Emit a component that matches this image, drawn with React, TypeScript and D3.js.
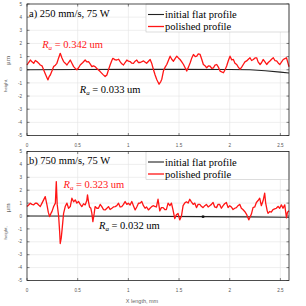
import React from 'react';
import * as d3 from 'd3';

// axis setup
const xTicks = [0, 0.5, 1, 1.5, 2, 2.5];
const yTicks = [-5, -4, -3, -2, -1, 0, 1, 2, 3, 4, 5];
const xMax = 2.585;

// a) 250 mm/s
const flatAX = [0, 0.5, 1, 1.5, 2, 2.2, 2.35, 2.5, 2.585];
const flatAY = [0, 0.02, 0.03, 0.03, 0.02, 0, -0.08, -0.18, -0.25];
const polAX = [
  0, 0.016, 0.033, 0.049, 0.066, 0.082, 0.098, 0.115, 0.131, 0.148, 0.164, 0.18, 0.197, 0.207, 0.22, 0.23,
  0.246, 0.263, 0.28, 0.295, 0.312, 0.328, 0.345, 0.361, 0.377, 0.394, 0.41, 0.427, 0.443, 0.46, 0.476, 0.492,
  0.509, 0.525, 0.551, 0.574, 0.59, 0.607, 0.623, 0.64, 0.656, 0.672, 0.689, 0.722, 0.748, 0.771, 0.788, 0.804,
  0.82, 0.837, 0.847, 0.87, 0.886, 0.903, 0.919, 0.935, 0.952, 0.968, 0.985, 1.0, 1.017, 1.034, 1.05, 1.067,
  1.083, 1.1, 1.117, 1.15, 1.18, 1.215, 1.23, 1.248, 1.264, 1.28, 1.303, 1.32, 1.33, 1.346, 1.363, 1.379,
  1.395, 1.412, 1.428, 1.445, 1.461, 1.478, 1.494, 1.51, 1.527, 1.544, 1.56, 1.576, 1.593, 1.61, 1.626, 1.642,
  1.66, 1.675, 1.69, 1.708, 1.724, 1.74, 1.757, 1.773, 1.79, 1.806, 1.823, 1.84, 1.855, 1.872, 1.888, 1.905,
  1.938, 1.954, 1.97, 1.987, 2.003, 2.02, 2.036, 2.052, 2.069, 2.085, 2.102, 2.118, 2.134, 2.15, 2.167, 2.184,
  2.2, 2.216, 2.233, 2.25, 2.266, 2.28, 2.3, 2.315, 2.33, 2.348, 2.365, 2.38, 2.397, 2.413, 2.43, 2.446,
  2.463, 2.48, 2.495, 2.512, 2.528, 2.545, 2.56, 2.575, 2.585,
];
const polAY = [
  0.36, 0.55, 0.74, 0.6, 0.49, 0.7, 0.62, 0.5, 0.36, 0.3, 0.0, -0.3, -0.6, -0.77, -0.5, -0.4,
  -0.1, 0.24, 0.35, 0.49, 0.9, 1.25, 0.9, 0.62, 0.5, 0.36, 0.55, 0.74, 0.5, 0.24, 0.1, 0.0,
  0.15, 0.36, 0.55, 0.74, 0.6, 0.62, 0.45, 0.24, 0.3, 0.24, 0.1, -0.14, -0.35, -0.52, -0.4, 0.0,
  0.36, 0.7, 0.87, 0.75, 0.74, 0.8, 0.62, 0.45, 0.36, 0.55, 0.74, 0.65, 0.62, 0.5, 0.49, 0.65,
  0.74, 0.55, 0.55, 0.67, 0.49, 0.78, 0.5, 0.0, -0.4, -0.74, -1.1, -0.9, -0.72, -0.1, 0.2, 0.4,
  0.7, 1.03, 0.8, 0.65, 0.85, 1.03, 0.9, 0.78, 0.6, 0.4, 0.15, -0.1, 0.2, 0.53, 0.9, 1.16,
  1.0, 1.03, 1.2, 1.16, 0.8, 0.4, 0.3, 0.15, 0.3, 0.28, 0.1, 0.15, 0.35, 0.4, 0.2, -0.1,
  -0.23, 0.0, 0.28, 0.7, 1.03, 0.75, 0.78, 0.5, 0.4, 0.2, 0.03, 0.2, 0.4, 0.6, 0.67, 0.8,
  0.91, 0.7, 0.78, 0.9, 0.91, 0.6, 0.4, 0.55, 0.78, 0.6, 0.4, 0.55, 0.67, 0.8, 0.91, 0.7,
  0.67, 0.5, 0.4, 0.6, 0.78, 0.85, 0.91, 0.5, 0.23,
];

// b) 750 mm/s
const flatBX = [0, 1, 1.74, 2.2, 2.585];
const flatBY = [0, -0.02, -0.05, -0.07, -0.1];
const markerB = [1.737, -0.05];
const polBX = [
  0, 0.016, 0.033, 0.049, 0.066, 0.082, 0.098, 0.115, 0.131, 0.148, 0.164, 0.18, 0.197, 0.21, 0.223, 0.236,
  0.246, 0.263, 0.28, 0.289, 0.298, 0.312, 0.322, 0.328, 0.338, 0.348, 0.361, 0.377, 0.394, 0.41, 0.427, 0.443,
  0.46, 0.476, 0.492, 0.509, 0.525, 0.541, 0.558, 0.574, 0.59, 0.597, 0.607, 0.617, 0.63, 0.64, 0.65, 0.663,
  0.672, 0.689, 0.705, 0.722, 0.738, 0.755, 0.771, 0.788, 0.804, 0.82, 0.837, 0.853, 0.87, 0.886, 0.903, 0.919,
  0.935, 0.952, 0.968, 0.985, 1.0, 1.017, 1.034, 1.05, 1.067, 1.083, 1.1, 1.116, 1.132, 1.149, 1.165, 1.18,
  1.198, 1.214, 1.23, 1.244, 1.26, 1.277, 1.293, 1.31, 1.326, 1.343, 1.36, 1.375, 1.392, 1.41, 1.425, 1.44,
  1.458, 1.474, 1.49, 1.507, 1.524, 1.54, 1.556, 1.573, 1.59, 1.606, 1.622, 1.64, 1.655, 1.672, 1.688, 1.705,
  1.72, 1.737, 1.754, 1.77, 1.787, 1.803, 1.82, 1.836, 1.852, 1.87, 1.885, 1.9, 1.918, 1.935, 1.95, 1.967,
  1.984, 2.0, 2.016, 2.033, 2.05, 2.066, 2.082, 2.1, 2.115, 2.13, 2.148, 2.165, 2.178, 2.188, 2.2, 2.214,
  2.23, 2.247, 2.263, 2.28, 2.296, 2.312, 2.33, 2.345, 2.355, 2.37, 2.378, 2.395, 2.41, 2.427, 2.444, 2.46,
  2.477, 2.493, 2.51, 2.526, 2.543, 2.56, 2.57, 2.585,
];
const polBY = [
  0.73, 0.85, 0.99, 0.9, 0.86, 0.99, 0.99, 0.85, 0.73, 1.0, 1.25, 1.5, 0.86, 0.3, -0.05, 0.2,
  0.34, 0.73, 1.0, 2.67, 0.9, 0.0, -1.2, -2.13, -1.7, -0.9, 0.2, 0.73, 1.0, 0.6, 0.73, 1.38,
  1.1, 1.25, 1.0, 1.12, 0.9, 0.73, 0.95, 0.86, 1.2, 1.64, 1.1, 0.7, 0.6, 0.2, -0.44, 0.2,
  0.73, 0.6, 0.6, 0.9, 0.73, 0.5, 0.47, 0.6, 0.73, 0.5, 0.6, 0.7, 0.73, 0.8, 0.99, 0.7,
  0.73, 0.9, 1.12, 0.9, 0.99, 0.85, 1.12, 0.8, 0.47, 0.7, 0.99, 1.0, 1.12, 0.8, 0.6, 0.7,
  0.47, 0.6, 0.73, 0.8, 0.75, 0.7, 1.3, 0.4, 0.65, 0.65, 0.5, 0.5, 1.0, 0.8, 1.0, 0.5,
  -0.2, 0.1, 0.2, -0.3, 0.0, 0.8, 1.0, 1.1, 1.0, 1.3, 1.1, 0.9, 1.0, 0.65, 0.9, 0.9,
  0.75, 0.65, 0.8, 0.9, 0.7, 0.8, 0.9, 1.05, 0.7, 0.65, 0.9, 0.9, 0.6, 0.8, 0.95, 1.05,
  0.65, 0.8, 0.7, 0.5, 0.6, 0.65, 0.8, 0.9, 0.6, 0.5, 0.35, 0.15, -0.1, -0.3, -0.1, 0.15,
  0.65, 0.7, 1.05, 1.2, 1.38, 0.8, 1.2, 1.77, 1.0, 0.4, 0.2, 0.35, 0.3, 0.5, 0.55, 0.6,
  0.75, 0.6, 0.86, 0.6, 0.86, -0.15, 0.3, 0.4,
];

const left = 27;
const right = 289;
const red = '#ff1515';
const serif = '"Liberation Serif", "Times New Roman", serif';
const sans = '"Liberation Sans", Arial, sans-serif';

type PanelProps = {
  top: number;
  bottom: number;
  title: string;
  flatX: number[];
  flatY: number[];
  polX: number[];
  polY: number[];
  raPol: string;
  raFlat: string;
  raPolAt: [number, number];
  raFlatAt: [number, number];
  marker?: number[];
};

function Ra({ x, y, value, color }: { x: number; y: number; value: string; color: string }) {
  return (
    <text x={x} y={y} fill={color} fontFamily={serif} fontSize={10.5}>
      <tspan fontStyle="italic">R</tspan>
      <tspan fontStyle="italic" fontSize={7} dy={2}>a</tspan>
      <tspan dy={-2}>{' = ' + value + ' um'}</tspan>
    </text>
  );
}

function Panel(p: PanelProps) {
  const x = d3.scaleLinear().domain([0, xMax]).range([left, right]);
  const y = d3.scaleLinear().domain([-5, 5]).range([p.bottom, p.top]);
  // profile path from two parallel arrays
  const mk = (xs: number[], ys: number[]) =>
    d3.line<number>().x((d) => x(d)).y((d, i) => y(ys[i]))(xs) || '';

  return (
    <g>
      <rect x={left} y={p.top} width={right - left} height={p.bottom - p.top} fill="#fff" />
      {/* grid */}
      {xTicks.slice(1).map((t) => (
        <line key={'gx' + t} x1={x(t)} x2={x(t)} y1={p.top} y2={p.bottom} stroke="#e2e2e2" strokeWidth={0.6} />
      ))}
      {yTicks.slice(1, -1).map((t) => (
        <line key={'gy' + t} x1={left} x2={right} y1={y(t)} y2={y(t)} stroke="#e2e2e2" strokeWidth={0.6} />
      ))}
      {/* ticks */}
      {yTicks.map((t) => (
        <g key={'ty' + t}>
          <line x1={left} x2={left + 2.5} y1={y(t)} y2={y(t)} stroke="#333" strokeWidth={0.6} />
          <line x1={right} x2={right - 2.5} y1={y(t)} y2={y(t)} stroke="#333" strokeWidth={0.6} />
          <text x={22} y={y(t) + 1.6} textAnchor="end" fontFamily={sans} fontSize={4.6} fill="#555">
            {t}
          </text>
        </g>
      ))}
      {xTicks.map((t) => (
        <g key={'tx' + t}>
          <line x1={x(t)} x2={x(t)} y1={p.bottom} y2={p.bottom - 2.5} stroke="#333" strokeWidth={0.6} />
          <line x1={x(t)} x2={x(t)} y1={p.top} y2={p.top + 2.5} stroke="#333" strokeWidth={0.6} />
          <text x={x(t)} y={p.bottom + 11.5} textAnchor="middle" fontFamily={sans} fontSize={4.6} fill="#555">
            {t}
          </text>
        </g>
      ))}
      {/* legend box */}
      <rect x={146} y={p.top} width={right - 146} height={28} fill="#fff" stroke="#bbb" strokeWidth={0.5} />
      {/* profiles */}
      <path d={mk(p.flatX, p.flatY)} fill="none" stroke="#222" strokeWidth={1.1} />
      {p.marker && (
        <rect x={x(p.marker[0]) - 1.2} y={y(p.marker[1]) - 1.2} width={2.4} height={2.4} fill="#111" />
      )}
      <path d={mk(p.polX, p.polY)} fill="none" stroke={red} strokeWidth={1.3} strokeLinejoin="round" />
      {/* frame */}
      <rect x={left} y={p.top} width={right - left} height={p.bottom - p.top} fill="none" stroke="#222" strokeWidth={0.8} />
      {/* title */}
      <text x={29} y={p.top + 12.5} fontFamily={serif} fontSize={10.5} fill="#000">
        {p.title}
      </text>
      {/* legend */}
      <line x1={148} x2={164} y1={p.top + 10.5} y2={p.top + 10.5} stroke="#222" strokeWidth={1.1} />
      <text x={165} y={p.top + 14} fontFamily={serif} fontSize={10.5} fill="#000">
        initial flat profile
      </text>
      <line x1={148} x2={164} y1={p.top + 22.5} y2={p.top + 22.5} stroke={red} strokeWidth={1.3} />
      <text x={165} y={p.top + 26} fontFamily={serif} fontSize={10.5} fill="#000">
        polished profile
      </text>
      {/* Ra labels */}
      <Ra x={x(p.raPolAt[0])} y={y(p.raPolAt[1])} value={p.raPol} color={red} />
      <Ra x={x(p.raFlatAt[0])} y={y(p.raFlatAt[1])} value={p.raFlat} color="#000" />
      {/* y label */}
      <text transform={`translate(7,${p.top + 88}) rotate(-90)`} fontFamily={sans} fontSize={4.4} fill="#666">
        height,
      </text>
      <text transform={`translate(10,${p.top + 61}) rotate(-90)`} fontFamily={serif} fontSize={7} fill="#666">
        μm
      </text>
    </g>
  );
}

export default function App() {
  return (
    <svg
      width={306}
      height={306}
      style={{ position: 'absolute', left: 0, top: 0, background: '#fff' }}
    >
      <Panel
        top={4}
        bottom={135.5}
        title="a) 250 mm/s, 75 W"
        flatX={flatAX}
        flatY={flatAY}
        polX={polAX}
        polY={polAY}
        raPol="0.342"
        raFlat="0.033"
        raPolAt={[0.15, 1.69]}
        raFlatAt={[0.52, -1.78]}
      />
      <Panel
        top={151.5}
        bottom={280.5}
        title="b) 750 mm/s, 75 W"
        flatX={flatBX}
        flatY={flatBY}
        polX={polBX}
        polY={polBY}
        raPol="0.323"
        raFlat="0.032"
        raPolAt={[0.36, 2.2]}
        raFlatAt={[0.71, -1.01]}
        marker={markerB}
      />
      <text x={142} y={303} textAnchor="middle" fontFamily={sans} fontSize={5.5} fill="#666">
        X length, mm
      </text>
    </svg>
  );
}
